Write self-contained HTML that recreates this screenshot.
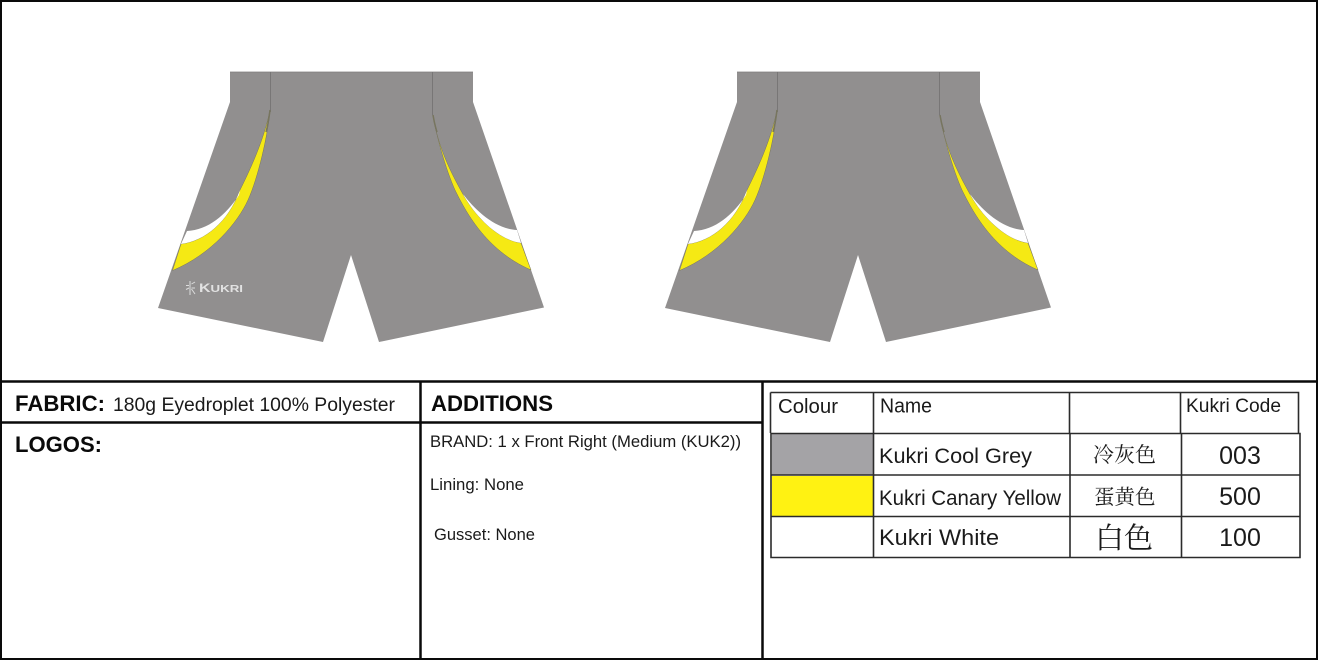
<!DOCTYPE html>
<html>
<head>
<meta charset="utf-8">
<style>
html,body{margin:0;padding:0;background:#fff;width:1318px;height:660px;overflow:hidden}
svg{display:block}
text{font-family:"Liberation Sans","Noto Sans CJK SC",sans-serif;fill:#1a1a1a}
.b{font-weight:700;fill:#0a0a0a}
.cjk{font-family:"Liberation Serif","Noto Serif CJK SC",serif}
</style>
</head>
<body>
<svg width="1318" height="660" viewBox="0 0 1318 660" xmlns="http://www.w3.org/2000/svg">
<defs>
<g id="shorts">
  <path d="M230 72H473V102L544 307.500L379 342L351 255L323 342L158 308L230 102Z" fill="#918f8f"/>
  <path d="M230 72H473" stroke="#7f7d7d" stroke-width=".8" fill="none"/>
  <path d="M270.500 72V112M432.500 72V115" stroke="#767474" stroke-width=".9" fill="none"/>
  <!-- left panel -->
  <path d="M270 110C268 135 258 178 248 200C238 222 212 254 172.500 270.500L181 244C205 241 228 222 240 190C250 170 264 140 270 110Z" fill="#f5e914" stroke="#77755f" stroke-width=".5"/>
  <path d="M239 195C226 215 208 230 187 231L181 244C205 241 228 222 240 190Z" fill="#fff"/>
  <path d="M270 110C269 118 268 125 266 132" stroke="#77755f" stroke-width="1.500" fill="none"/>
  <!-- right panel -->
  <path d="M433 115C436 135 446 170 455 190C465 210 485 250 531 270L521 243C500 240 478 220 464 196C455 180 438 150 433 115Z" fill="#f5e914" stroke="#77755f" stroke-width=".5"/>
  <path d="M463 194C475 210 495 229 517 230L521 243C500 240 478 220 464 196Z" fill="#fff"/>
  <path d="M433 115C434 121 435 126 437 132" stroke="#77755f" stroke-width="1.500" fill="none"/>
</g>
</defs>

<rect x="1" y="1" width="1316" height="658" fill="#fff" stroke="#0a0a0a" stroke-width="2"/>

<use href="#shorts"/>
<use href="#shorts" x="507"/>

<!-- logo -->
<g stroke="#dcdcdc" stroke-width="1" fill="none">
  <path d="M190 281V295M186 285.500H189M186 289.500L189 288M191.500 284L195 282M191.500 288H195M191.500 289L195 294"/>
</g>
<text x="199" y="292" font-size="10" font-weight="700" textLength="44" lengthAdjust="spacingAndGlyphs" style="fill:#e2e2e2"><tspan font-size="12">K</tspan>UKRI</text>

<!-- section rules -->
<path d="M0 381.500H1318" stroke="#0a0a0a" stroke-width="2.500"/>
<path d="M2 422.500H762" stroke="#0a0a0a" stroke-width="2.500"/>
<path d="M420.500 381V659M762.500 381V659" stroke="#0a0a0a" stroke-width="2.500"/>

<!-- left text -->
<text class="b" x="15" y="411" font-size="21.900" textLength="90" lengthAdjust="spacingAndGlyphs">FABRIC:</text>
<text x="113" y="411" font-size="19.400" textLength="282" lengthAdjust="spacingAndGlyphs">180g Eyedroplet 100% Polyester</text>
<text class="b" x="15" y="452" font-size="22" textLength="87" lengthAdjust="spacingAndGlyphs">LOGOS:</text>

<!-- additions -->
<text class="b" x="431" y="411" font-size="22.200" textLength="122" lengthAdjust="spacingAndGlyphs">ADDITIONS</text>
<text x="430" y="447" font-size="16.600" textLength="311" lengthAdjust="spacingAndGlyphs">BRAND: 1 x Front Right (Medium (KUK2))</text>
<text x="430" y="490" font-size="16.600" textLength="94" lengthAdjust="spacingAndGlyphs">Lining: None</text>
<text x="434" y="540" font-size="16.600" textLength="101" lengthAdjust="spacingAndGlyphs">Gusset: None</text>

<!-- colour table -->
<rect x="772" y="434" width="101" height="41" fill="#a4a3a6"/>
<rect x="772" y="476" width="101" height="40" fill="#fff212"/>
<g stroke="#2b2b2b" stroke-width="1.600" fill="none">
  <path d="M770.500 392.500H1298.500V433M770.500 392.500V433"/>
  <path d="M873.500 392.500V433M1069.500 392.500V433M1180.500 392.500V433"/>
  <path d="M771 433.500H1300V557.500H771Z"/>
  <path d="M771 475H1300M771 516.500H1300"/>
  <path d="M873.500 433V557M1070 433V557M1181.500 433V557"/>
</g>

<text x="778" y="413" font-size="20.400" textLength="60" lengthAdjust="spacingAndGlyphs">Colour</text>
<text x="880" y="412.500" font-size="20" textLength="52" lengthAdjust="spacingAndGlyphs">Name</text>
<text x="1186" y="412" font-size="19.500" textLength="95" lengthAdjust="spacingAndGlyphs">Kukri Code</text>

<text x="879" y="463" font-size="21.700" textLength="153" lengthAdjust="spacingAndGlyphs">Kukri Cool Grey</text>
<text x="879" y="505" font-size="21.400" textLength="182" lengthAdjust="spacingAndGlyphs">Kukri Canary Yellow</text>
<text x="879" y="545" font-size="22.500" textLength="120" lengthAdjust="spacingAndGlyphs">Kukri White</text>

<text class="cjk" x="1093" y="462" font-size="21">冷灰色</text>
<text class="cjk" x="1094" y="504" font-size="20.500">蛋黄色</text>
<text class="cjk" x="1095" y="548" font-size="29">白色</text>

<text x="1240" y="464" font-size="25" text-anchor="middle">003</text>
<text x="1240" y="505" font-size="25" text-anchor="middle">500</text>
<text x="1240" y="546" font-size="25" text-anchor="middle">100</text>
</svg>
</body>
</html>
